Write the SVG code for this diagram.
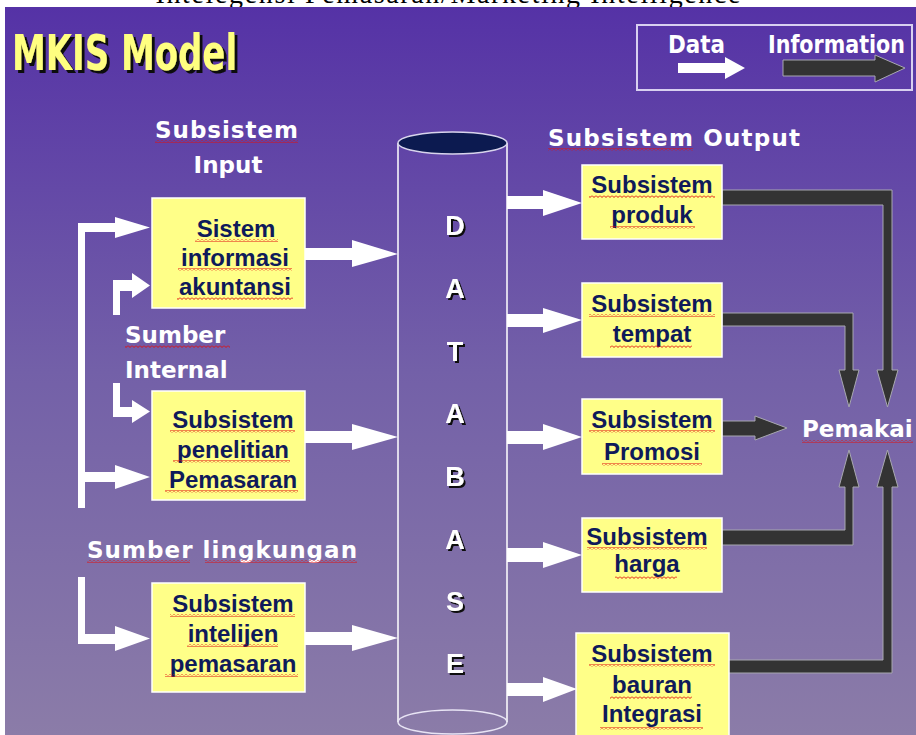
<svg xmlns="http://www.w3.org/2000/svg" width="916" height="735" viewBox="0 0 916 735">
<defs>
<linearGradient id="bg" x1="0" y1="0" x2="0" y2="1">
<stop offset="0" stop-color="#5532a6"/>
<stop offset="0.5" stop-color="#7360a8"/>
<stop offset="1" stop-color="#8b7ca8"/>
</linearGradient>
<pattern id="sq" width="4" height="3" patternUnits="userSpaceOnUse">
<path d="M0,0.5 L2,2.5 L4,0.5" fill="none" stroke="#e01010" stroke-width="1"/>
</pattern>
<filter id="sh" x="-20%" y="-20%" width="140%" height="140%">
<feDropShadow dx="2" dy="2" stdDeviation="0" flood-color="#111111" flood-opacity="1"/>
</filter>
<filter id="sh3" x="-20%" y="-20%" width="140%" height="140%">
<feDropShadow dx="3" dy="3" stdDeviation="0" flood-color="#111111" flood-opacity="1"/>
</filter>
<style>
.bx{fill:#ffff88;stroke:#ffffff;stroke-width:1.5}
.bt{font-family:"Liberation Sans",Arial,sans-serif;font-weight:bold;font-size:24px;fill:#0f1a5a;text-anchor:middle}
.hd{font-family:"DejaVu Sans",Verdana,sans-serif;font-weight:bold;font-size:23px;fill:#ffffff}
.db{font-family:"Liberation Sans",Arial,sans-serif;font-weight:bold;font-size:27px;text-anchor:middle;fill:#ffffff;filter:url(#sh)}
.wa{fill:#ffffff}
.ia{fill:#333333;stroke:#a8a8b0;stroke-width:1}
.sq{fill:url(#sq)}
.lg{font-family:"Liberation Sans Narrow","DejaVu Sans Condensed","Liberation Sans",sans-serif;font-stretch:condensed;font-weight:bold;font-size:24px;fill:#ffffff}
</style>
</defs>
<rect x="0" y="0" width="916" height="735" fill="#ffffff"/>
<text x="448" y="3" font-family="'Liberation Serif','Times New Roman',serif" font-size="28" text-anchor="middle" textLength="585" fill="#000">Intelegensi Pemasaran/Marketing Intelligence</text>
<rect x="5" y="7" width="911" height="728" fill="url(#bg)"/>

<g id="title">
<text x="12" y="70" filter="url(#sh3)" font-family="'Liberation Sans Narrow','DejaVu Sans Condensed','Liberation Sans',sans-serif" font-stretch="condensed" font-weight="bold" font-size="50" textLength="225" lengthAdjust="spacingAndGlyphs" fill="#ffff80">MKIS Model</text>
</g>

<g id="legend">
<rect x="637" y="25" width="275" height="65" fill="none" stroke="#d8d0f0" stroke-width="2"/>
<text class="lg" x="668" y="53" textLength="57" lengthAdjust="spacingAndGlyphs">Data</text>
<text class="lg" x="768" y="53" textLength="137" lengthAdjust="spacingAndGlyphs">Information</text>
<polygon class="wa" points="678,63 725,63 725,57 745,68 725,79 725,73 678,73"/>
<polygon class="ia" points="783,60 875,60 875,55 905,68 875,82 875,76 783,76"/>
</g>

<g id="headers">
<text class="hd" x="155" y="138" font-size="24" textLength="143">Subsistem</text>
<rect class="sq" x="155" y="140" width="143" height="3"/>
<text class="hd" x="228" y="173" font-size="24" text-anchor="middle">Input</text>
<text class="hd" x="125" y="343" font-size="24">Sumber</text>
<rect class="sq" x="125" y="345" width="105" height="3"/>
<text class="hd" x="125" y="378" font-size="24">Internal</text>
<text class="hd" x="87" y="558" textLength="270">Sumber lingkungan</text>
<rect class="sq" x="87" y="560" width="103" height="3"/>
<rect class="sq" x="205" y="560" width="152" height="3"/>
<text class="hd" x="548" y="146" font-size="24" textLength="252">Subsistem Output</text>
<rect class="sq" x="548" y="148" width="145" height="3"/>
<text class="hd" x="802" y="437">Pemakai</text>
<rect class="sq" x="802" y="440" width="111" height="3"/>
</g>

<g id="connectors">
<path class="wa" d="M78,223 H115 V217 L150,227.5 L115,238 V232 H85 V472 H115 V465 L150,477 L115,489 V482 H85 V508 H78 Z"/>
<path class="wa" d="M113,315 V280 H132 V273 L150,285.5 L132,298 V291 H120 V315 Z"/>
<path class="wa" d="M113,383 H120 V407 H132 V400 L150,411.5 L132,423 V417 H113 Z"/>
<path class="wa" d="M78,577 H85 V634 H115 V626 L150,638.5 L115,651 V644 H78 Z"/>
<polygon class="wa" points="305,248 352,248 352,240 398,254 352,267 352,260 305,260"/>
<polygon class="wa" points="305,431 352,431 352,424 398,437 352,450 352,443 305,443"/>
<polygon class="wa" points="305,632 352,632 352,625 398,638 352,651 352,645 305,645"/>
<polygon class="wa" points="507,196 543,196 543,190 582,203 543,216 543,209 507,209"/>
<polygon class="wa" points="507,314 543,314 543,308 582,320 543,333 543,327 507,327"/>
<polygon class="wa" points="507,431 543,431 543,424 582,437 543,450 543,444 507,444"/>
<polygon class="wa" points="507,548 543,548 543,542 582,555 543,568 543,562 507,562"/>
<polygon class="wa" points="507,683 543,683 543,677 577,689 543,702 543,696 507,696"/>
<polygon class="ia" points="722,190 892,190 892,370 898,370 887.5,407 877,370 883,370 883,205 722,205"/>
<polygon class="ia" points="722,313 853,313 853,370 859,370 849,407 839,370 845,370 845,326 722,326"/>
<polygon class="ia" points="722,421 755,421 755,416 787,428 755,440 755,436 722,436"/>
<polygon class="ia" points="722,545 853,545 853,487 859,487 849,450 839,487 845,487 845,530 722,530"/>
<polygon class="ia" points="722,673 892,673 892,487 898,487 887.5,450 877,487 883,487 883,660 722,660"/>
</g>

<g id="database">
<path d="M398,143 V722 M507,143 V722" fill="none" stroke="#ffffff" stroke-width="1.5"/>
<ellipse cx="452.5" cy="722" rx="54.5" ry="12" fill="none" stroke="#e8e4f4" stroke-width="1.5"/>
<ellipse cx="452.5" cy="143" rx="54.5" ry="11" fill="#0c1a50" stroke="#d8d4ec" stroke-width="1.5"/>
<text class="db" x="455" y="235">D</text>
<text class="db" x="455" y="298">A</text>
<text class="db" x="455" y="361">T</text>
<text class="db" x="455" y="423">A</text>
<text class="db" x="455" y="486">B</text>
<text class="db" x="455" y="549">A</text>
<text class="db" x="455" y="611">S</text>
<text class="db" x="455" y="673">E</text>
</g>

<g id="sia">
<rect class="bx" x="152" y="198" width="153" height="110"/>
<text class="bt" x="236" y="237">Sistem</text>
<text class="bt" x="235" y="266">informasi</text>
<text class="bt" x="235" y="295">akuntansi</text>
<rect class="sq" x="195" y="239" width="83" height="3"/>
<rect class="sq" x="178" y="268" width="114" height="3"/>
<rect class="sq" x="177" y="297" width="116" height="3"/>
</g>

<g id="penelitian">
<rect class="bx" x="152" y="391" width="153" height="109"/>
<text class="bt" x="233" y="428">Subsistem</text>
<text class="bt" x="233" y="458">penelitian</text>
<text class="bt" x="233" y="488">Pemasaran</text>
<rect class="sq" x="170" y="430" width="125" height="3"/>
<rect class="sq" x="173" y="460" width="117" height="3"/>
<rect class="sq" x="165" y="490" width="133" height="3"/>
</g>

<g id="intelijen">
<rect class="bx" x="152" y="583" width="153" height="109"/>
<text class="bt" x="233" y="612">Subsistem</text>
<text class="bt" x="233" y="642">intelijen</text>
<text class="bt" x="233" y="672">pemasaran</text>
<rect class="sq" x="170" y="614" width="125" height="3"/>
<rect class="sq" x="187" y="644" width="91" height="3"/>
<rect class="sq" x="165" y="674" width="133" height="3"/>
</g>

<g id="produk">
<rect class="bx" x="582" y="165" width="140" height="74"/>
<text class="bt" x="652" y="193">Subsistem</text>
<text class="bt" x="652" y="223">produk</text>
<rect class="sq" x="589" y="195" width="126" height="3"/>
<rect class="sq" x="610" y="226" width="85" height="3"/>
</g>

<g id="tempat">
<rect class="bx" x="582" y="283" width="140" height="74"/>
<text class="bt" x="652" y="312">Subsistem</text>
<text class="bt" x="652" y="342">tempat</text>
<rect class="sq" x="589" y="314" width="126" height="3"/>
<rect class="sq" x="610" y="345" width="82" height="3"/>
</g>

<g id="promosi">
<rect class="bx" x="582" y="399" width="140" height="75"/>
<text class="bt" x="652" y="428">Subsistem</text>
<text class="bt" x="652" y="460">Promosi</text>
<rect class="sq" x="589" y="430" width="126" height="3"/>
<rect class="sq" x="602" y="463" width="100" height="3"/>
</g>

<g id="harga">
<rect class="bx" x="582" y="518" width="140" height="74"/>
<text class="bt" x="647" y="545">Subsistem</text>
<text class="bt" x="647" y="572">harga</text>
<rect class="sq" x="587" y="547" width="120" height="3"/>
<rect class="sq" x="615" y="576" width="62" height="3"/>
</g>

<g id="bauran">
<rect class="bx" x="576" y="633" width="153" height="110"/>
<text class="bt" x="652" y="662">Subsistem</text>
<text class="bt" x="652" y="693">bauran</text>
<text class="bt" x="652" y="722">Integrasi</text>
<rect class="sq" x="589" y="664" width="126" height="3"/>
<rect class="sq" x="610" y="696" width="82" height="3"/>
<rect class="sq" x="600" y="727" width="103" height="3"/>
</g>
</svg>
